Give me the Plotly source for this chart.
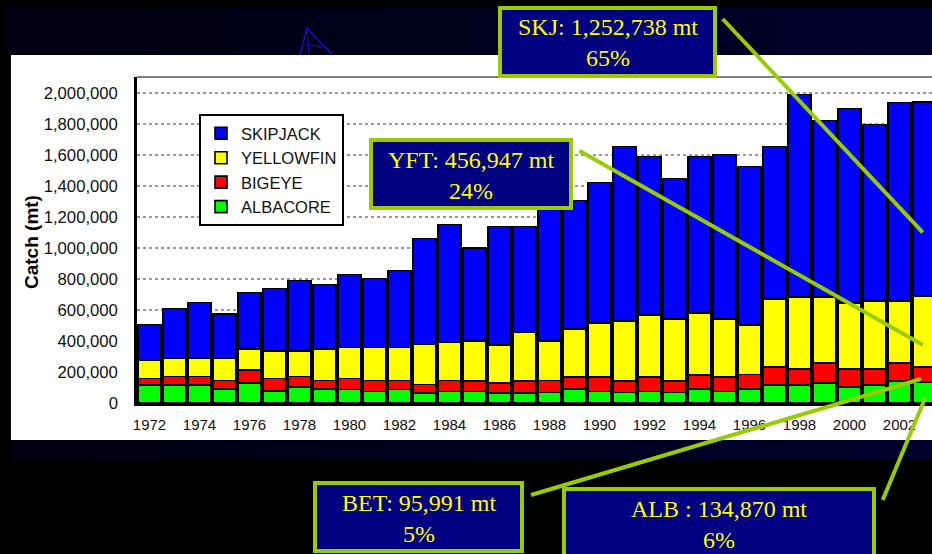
import plotly.graph_objects as go

# ---------------- data (metric tonnes) ----------------
years = list(range(1972, 2004))
albacore = [116000, 116000, 116000, 92000, 129000, 79000, 105000, 92000, 88000, 75000,
            88000, 66000, 75000, 75000, 66000, 66000, 67000, 89000, 75000, 67000,
            75000, 67000, 89000, 75000, 90000, 115000, 115000, 127000, 103000, 115000,
            141000, 134870]
bigeye = [41000, 54000, 54000, 52000, 82000, 78000, 65000, 52000, 69000, 69000,
          56000, 52000, 69000, 68000, 64000, 77000, 77000, 80000, 94000, 76000,
          94000, 76000, 93000, 94000, 94000, 118000, 103000, 130000, 117000, 105000,
          116000, 95991]
yellowfin = [118000, 116000, 116000, 142000, 137000, 180000, 167000, 204000, 202000, 215000,
             215000, 258000, 245000, 258000, 244000, 311000, 256000, 309000, 347000, 387000,
             399000, 399000, 398000, 373000, 319000, 438000, 465000, 426000, 424000, 438000,
             401000, 456947]
skipjack = [232000, 322000, 361000, 286000, 363000, 400000, 452000, 415000, 469000, 443000,
            494000, 684000, 761000, 597000, 763000, 683000, 850000, 827000, 905000, 1123000,
            1021000, 905000, 1009000, 1060000, 1021000, 982000, 1306000, 1138000, 1254000, 1137000,
            1279000, 1252738]

series_names = ["ALBACORE", "BIGEYE", "YELLOWFIN", "SKIPJACK"]
series_values = [albacore, bigeye, yellowfin, skipjack]
series_colors = ["#00FF00", "#FF0000", "#FFFF00", "#0000FF"]

x_tick_vals = list(range(1972, 2003, 2))
x_tick_text = [str(v) for v in x_tick_vals]
y_tick_vals = list(range(0, 2000001, 200000))

callouts = [
    ("SKJ: 1,252,738 mt<br>65%", (500, 8, 715, 76), (722.7, 19, 922.7, 232.3)),
    ("YFT: 456,947 mt<br>24%", (371, 140, 571, 208), (579.3, 150.7, 923, 345)),
    ("BET: 95,991 mt<br>5%", (315, 483, 522, 551), (531, 495, 921, 379)),
    ("ALB : 134,870 mt<br>6%", (564, 489, 874, 558), (882.7, 500, 925.3, 397.7)),
]

# ---------------- layout geometry (pixels) ----------------
W, H = 932, 554
L, T, PW, PH = 137, 77, 795, 326


def xp(px):
    return (px - L) / PW


def yp(py):
    return (T + PH - py) / PH


fig = go.Figure()
for name, vals, col in zip(series_names, series_values, series_colors):
    fig.add_trace(go.Bar(
        x=years, y=vals, name=name, legendgroup=name,
        marker=dict(color=col, line=dict(color="#000000", width=1.6)),
    ))

shapes = []
# top navy band (fake gradient)
n = 12
for i in range(n):
    x0 = 3 + (W - 3) * i / n
    x1 = 3 + (W - 3) * (i + 1) / n
    c = int(14 + 30 * i / (n - 1))
    shapes.append(dict(type="rect", xref="paper", yref="paper",
                       x0=xp(x0), x1=xp(x1 + 1), y0=yp(55), y1=yp(7),
                       fillcolor=f"rgb(0,0,{c})", line=dict(width=0), layer="below"))
# bottom navy band
for i in range(n):
    x0 = 11 + (W - 11) * i / n
    x1 = 11 + (W - 11) * (i + 1) / n
    c = int(16 + 26 * i / (n - 1))
    shapes.append(dict(type="rect", xref="paper", yref="paper",
                       x0=xp(x0), x1=xp(x1 + 1), y0=yp(459), y1=yp(440),
                       fillcolor=f"rgb(0,0,{c})", line=dict(width=0), layer="below"))
# white chart panel
shapes.append(dict(type="rect", xref="paper", yref="paper",
                   x0=xp(11), x1=xp(W + 2), y0=yp(440), y1=yp(55),
                   fillcolor="#FFFFFF", line=dict(width=0), layer="below"))
# sailboat sketch
pts = [(300, 55), (307, 28), (320, 42), (332, 54)]
path = "M " + " L ".join(f"{xp(a):.5f},{yp(b):.5f}" for a, b in pts)
shapes.append(dict(type="path", xref="paper", yref="paper", path=path,
                   line=dict(color="#1010D0", width=1.5), layer="below"))
path2 = f"M {xp(307):.5f},{yp(28):.5f} L {xp(309):.5f},{yp(55):.5f} M {xp(305):.5f},{yp(44):.5f} L {xp(322):.5f},{yp(47):.5f}"
shapes.append(dict(type="path", xref="paper", yref="paper", path=path2,
                   line=dict(color="#1010D0", width=1), layer="below"))
# top border of plot area (gray)
shapes.append(dict(type="line", xref="paper", yref="paper", x0=0, x1=1.01, y0=1, y1=1,
                   line=dict(color="#808080", width=2), layer="above"))

annotations = []
for text, (bx0, by0, bx1, by1), (lx0, ly0, lx1, ly1) in callouts:
    shapes.append(dict(type="line", xref="paper", yref="paper",
                       x0=xp(lx0), y0=yp(ly0), x1=xp(lx1), y1=yp(ly1),
                       line=dict(color="#99CC00", width=4), layer="above"))
    shapes.append(dict(type="rect", xref="paper", yref="paper",
                       x0=xp(bx0), x1=xp(bx1), y0=yp(by1), y1=yp(by0),
                       fillcolor="#000080", line=dict(color="#99CC00", width=4), layer="above"))
    annotations.append(dict(xref="paper", yref="paper",
                            x=xp((bx0 + bx1) / 2), y=yp((by0 + by1) / 2 + 1),
                            text=text, showarrow=False, xanchor="center", yanchor="middle",
                            align="center",
                            font=dict(family="'Times New Roman', 'Liberation Serif', serif",
                                      size=24, color="#FFFF00")))

annotations.append(dict(xref="paper", yref="paper", x=xp(31), y=yp(242),
                        text="<b>Catch (mt)</b>", showarrow=False, textangle=-90,
                        xanchor="center", yanchor="middle",
                        font=dict(family="Arial, 'Liberation Sans', sans-serif",
                                  size=19, color="#000000")))

fig.update_layout(
    width=W, height=H,
    margin=dict(l=L, r=W - L - PW, t=T, b=H - T - PH, pad=0),
    paper_bgcolor="#000000",
    plot_bgcolor="#FFFFFF",
    barmode="stack",
    bargap=0.1,
    font=dict(family="Arial, 'Liberation Sans', sans-serif", color="#000000"),
    showlegend=True,
    legend=dict(
        x=xp(199), y=yp(114), xanchor="left", yanchor="top",
        traceorder="reversed", bgcolor="#FFFFFF", bordercolor="#000000", borderwidth=2,
        font=dict(size=16.5, color="#111111"), tracegroupgap=7,
        itemwidth=30,
    ),
    xaxis=dict(
        range=[1971.5, 1971.5 + PW / 25.0],
        tickmode="array", tickvals=x_tick_vals, ticktext=x_tick_text,
        tickfont=dict(size=15, color="#111111"),
        showgrid=False, zeroline=False,
        showline=True, linecolor="#000000", linewidth=2.5,
        ticks="", ticklabelstandoff=6,
    ),
    yaxis=dict(
        range=[0, 2101000],
        tickmode="array", tickvals=y_tick_vals, tickformat=",d",
        tickfont=dict(size=16.7, color="#111111"),
        showgrid=True, gridcolor="#9A9A9A", griddash="dot", gridwidth=1.5,
        zeroline=False,
        showline=True, linecolor="#000000", linewidth=2.5,
        ticks="", ticklabelstandoff=13,
    ),
    shapes=shapes,
    annotations=annotations,
)

fig.write_html(
    "out.html",
    config={"displayModeBar": False},
    post_script="document.body.style.margin='0';document.body.style.padding='0';"
                "document.body.style.background='#000';document.body.style.overflow='hidden';",
)
